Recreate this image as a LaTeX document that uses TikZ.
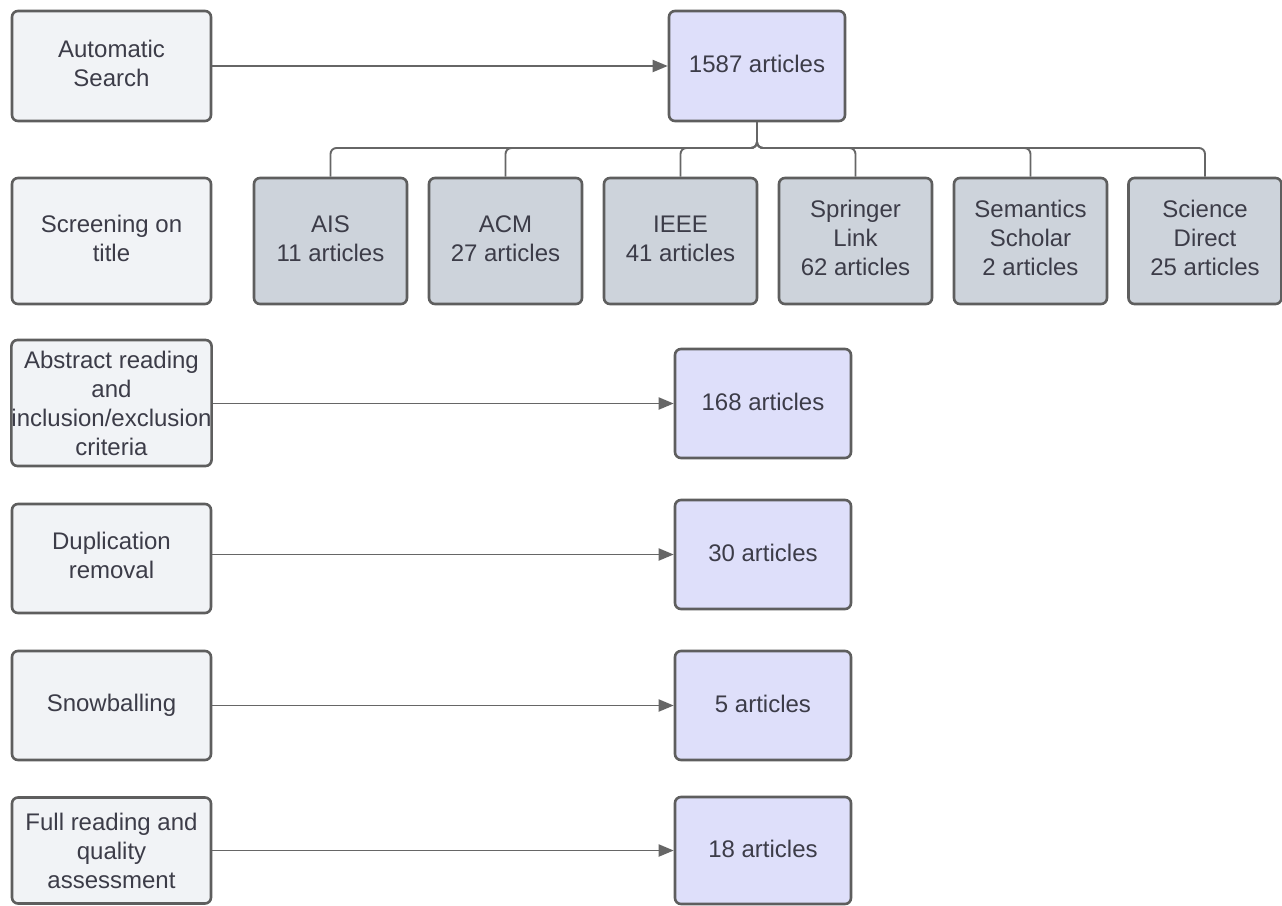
\documentclass[tikz,border=0pt]{standalone}
\usepackage{fontspec}
\setmainfont{Liberation Sans}
\usetikzlibrary{arrows.meta}
\definecolor{stepfill}{HTML}{F1F3F6}
\definecolor{srcfill}{HTML}{CDD3DB}
\definecolor{resfill}{HTML}{DEDFFA}
\definecolor{edgecol}{HTML}{5E5E5E}
\definecolor{linecol}{HTML}{666666}
\definecolor{txtcol}{HTML}{3C3C48}
\tikzset{
  basebox/.style={draw=edgecol, line width=2.6pt, rounded corners=6pt, align=center,
    text=txtcol, inner sep=0pt, font=\fontsize{24}{29}\selectfont},
  stepbox/.style={basebox, fill=stepfill, minimum width=199pt},
  srcbox/.style={basebox, fill=srcfill, minimum width=153pt, minimum height=126pt},
  resbox/.style={basebox, fill=resfill, minimum width=176pt, minimum height=109pt},
  conn/.style={draw=linecol, line width=1.9pt},
  arr/.style={conn, -{Triangle[length=15pt,width=12pt]}},
  tree/.style={conn, rounded corners=6pt}
}
\begin{document}
\begin{tikzpicture}[x=1pt,y=-1pt]
\useasboundingbox (0,0) rectangle (1282,905);
\fill[white] (0,0) rectangle (1282,905);
% left step boxes
\node[stepbox, minimum height=110pt] (s1) at (111.5,66) {\raisebox{2pt}{\begin{tabular}{@{}c@{}}Automatic\\Search\end{tabular}}};
\node[stepbox, minimum height=126pt] (s2) at (111.5,241) {\raisebox{2pt}{\begin{tabular}{@{}c@{}}Screening on\\title\end{tabular}}};
\node[stepbox, minimum height=126pt] (s3) at (111.5,403) {Abstract reading\\and\\inclusion/exclusion\\criteria};
\node[stepbox, minimum height=109pt] (s4) at (111.5,558.5) {\raisebox{2pt}{\begin{tabular}{@{}c@{}}Duplication\\removal\end{tabular}}};
\node[stepbox, minimum height=109pt] (s5) at (111.5,705.5) {\raisebox{3pt}{Snowballing}};
\node[stepbox, minimum height=106pt] (s6) at (111.5,850.5) {Full reading and\\quality\\assessment};
% result boxes
\node[resbox, minimum height=110pt] (r1) at (757,66) {\raisebox{4pt}{1587 articles}};
\node[resbox] (r3) at (763,403.5) {\raisebox{3pt}{168 articles}};
\node[resbox] (r4) at (763,554.5) {\raisebox{3pt}{30 articles}};
\node[resbox] (r5) at (763,705.5) {\raisebox{3pt}{5 articles}};
\node[resbox, minimum height=107pt] (r6) at (763,850.5) {\raisebox{3pt}{18 articles}};
% source boxes
\node[srcbox] (c1) at (330.5,241) {\raisebox{3pt}{\begin{tabular}{@{}c@{}}AIS\\11 articles\end{tabular}}};
\node[srcbox] (c2) at (505.5,241) {\raisebox{3pt}{\begin{tabular}{@{}c@{}}ACM\\27 articles\end{tabular}}};
\node[srcbox] (c3) at (680.5,241) {\raisebox{3pt}{\begin{tabular}{@{}c@{}}IEEE\\41 articles\end{tabular}}};
\node[srcbox] (c4) at (855.5,241) {\raisebox{3pt}{\begin{tabular}{@{}c@{}}Springer\\Link\\62 articles\end{tabular}}};
\node[srcbox] (c5) at (1030.5,241) {\raisebox{3pt}{\begin{tabular}{@{}c@{}}Semantics\\Scholar\\2 articles\end{tabular}}};
\node[srcbox] (c6) at (1205,241) {\raisebox{3pt}{\begin{tabular}{@{}c@{}}Science\\Direct\\25 articles\end{tabular}}};
% arrows
\draw[arr] (s1.east) -- (r1.west);
\draw[arr] (s3.east |- r3.west) -- (r3.west);
\draw[arr] (s4.east |- r4.west) -- (r4.west);
\draw[arr] (s5.east) -- (r5.west);
\draw[arr] (s6.east) -- (r6.west);
% tree
\coordinate (hub) at (757,148);
\foreach \c in {c1,c2,c3,c4,c5,c6}{
  \draw[tree] (r1.south) -- (r1.south |- hub) -| (\c.north);
}
\end{tikzpicture}
\end{document}
